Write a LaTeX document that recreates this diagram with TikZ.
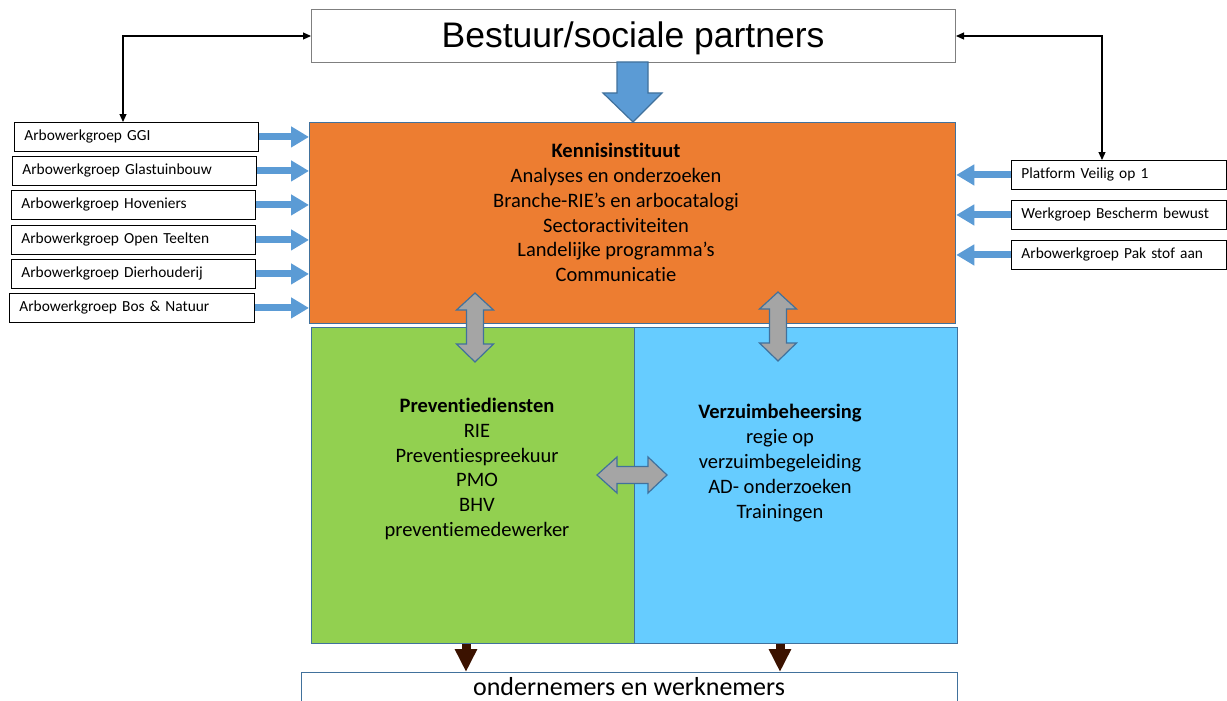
\documentclass[tikz,border=0pt]{standalone}
\usepackage{fontspec}
\setmainfont{Carlito}[Ligatures=NoCommon]
\newfontfamily\arialfont{Liberation Sans}
\usetikzlibrary{arrows.meta}
\definecolor{orangeK}{HTML}{ED7D31}
\definecolor{greenP}{HTML}{92D050}
\definecolor{blueV}{HTML}{66CCFF}
\definecolor{edgeB}{HTML}{41719C}
\definecolor{arrB}{HTML}{5B9BD5}
\definecolor{grayA}{HTML}{A5A5A5}
\definecolor{brownA}{HTML}{3B1200}
\definecolor{titleEdge}{HTML}{7F7F7F}
\tikzset{
  lbox/.style={draw=black, line width=0.9pt, fill=white, minimum height=29pt,
    inner xsep=10pt, inner ysep=0pt, text width=224pt, align=left,
    font=\fontsize{15.4}{17}\selectfont, anchor=north west},
  rbox/.style={lbox, text width=195pt},
  colbox/.style={draw=edgeB, line width=1.3pt, anchor=north west, inner sep=0pt},
  txt/.style={align=center, inner sep=0pt, font=\fontsize{20.5}{24.8}\selectfont},
  conn/.style={draw=black, line width=1.2pt,
    {Triangle[length=8pt,width=7pt]}-{Triangle[length=8pt,width=7pt]}},
  bluearr/.style={draw=arrB, line width=7pt, -{Triangle[length=18pt,width=20pt]}},
  brownarr/.style={draw=brownA, line width=9pt, -{Triangle[length=23pt,width=21pt]}},
  grayarr/.style={draw=edgeB, line width=1.2pt, fill=grayA, line join=miter},
  vdarr/.pic={\draw[grayarr] (0,-34.5) -- (18.5,-17.5) -- (8.5,-17.5) -- (8.5,16.5)
     -- (18.5,16.5) -- (0,34.5) -- (-18.5,16.5) -- (-8.5,16.5) -- (-8.5,-17.5)
     -- (-18.5,-17.5) -- cycle;},
  hdarr/.pic={\draw[grayarr] (-35,0) -- (-15,-18) -- (-15,-8.5) -- (16,-8.5)
     -- (16,-18) -- (35,0) -- (16,18) -- (16,8.5) -- (-15,8.5) -- (-15,18) -- cycle;}
}
\begin{document}
\begin{tikzpicture}[x=1pt,y=-1pt]
\useasboundingbox (0,0) rectangle (1227,701);
\fill[white] (0,0) rectangle (1227,701);

% title
\node[draw=titleEdge, line width=1pt, fill=white, anchor=north west, inner sep=0pt,
      minimum width=644pt, minimum height=53pt] (top) at (311,9) {};
\node[font=\arialfont\fontsize{35.5}{40}\selectfont, inner sep=0pt] (toptext) at (633,38.5) {Bestuur/sociale partners};

% main boxes
\node[colbox, fill=orangeK, minimum width=646pt, minimum height=201pt] (ki) at (309,122) {};
\node[colbox, fill=greenP, minimum width=323pt, minimum height=316pt] (pd) at (311,327) {};
\node[colbox, fill=blueV, minimum width=323pt, minimum height=316pt] (vz) at (634,327) {};
\node[colbox, fill=white, minimum width=656pt, minimum height=60pt] (ow) at (301,672) {};

\node[txt] (kitext) at (616,212.5) {\textbf{Kennisinstituut}\\Analyses en onderzoeken\\Branche-RIE’s en arbocatalogi\\Sectoractiviteiten\\Landelijke programma’s\\Communicatie};
\node[txt] (pdtext) at (477,469) {\textbf{Preventiediensten}\\RIE\\Preventiespreekuur\\PMO\\BHV\\preventiemedewerker};
\node[txt] (vztext) at (780,463) {\textbf{Verzuimbeheersing}\\regie op\\verzuimbegeleiding\\AD- onderzoeken\\Trainingen};
\node[inner sep=0pt, font=\fontsize{26}{30}\selectfont] (owtext) at (629,686.5) {ondernemers en werknemers};

% left boxes
\node[lbox] (l1) at (14,122) {Arbowerkgroep GGI};
\node[lbox] (l2) at (12,156) {Arbowerkgroep Glastuinbouw};
\node[lbox] (l3) at (11,190) {Arbowerkgroep Hoveniers};
\node[lbox] (l4) at (11,225) {Arbowerkgroep Open Teelten};
\node[lbox] (l5) at (11,259) {Arbowerkgroep Dierhouderij};
\node[lbox, text width=225pt] (l6) at (9,293) {Arbowerkgroep Bos \& Natuur};

% right boxes
\node[rbox] (r1) at (1011,160) {Platform Veilig op 1};
\node[rbox] (r2) at (1011,200) {Werkgroep Bescherm bewust};
\node[rbox] (r3) at (1011,240) {Arbowerkgroep Pak stof aan};

% blue input arrows
\foreach \n in {l1,l2,l3,l4,l5,l6}{
  \draw[bluearr] (\n.east) -- (\n.east -| ki.west);
}
\foreach \n in {r1,r2,r3}{
  \draw[bluearr] (\n.west) -- (\n.west -| ki.east);
}

% black connectors
\coordinate (lj) at (123,122);
\coordinate (rj) at (1102,160);
\draw[conn] (top.west) -| (lj);
\draw[conn] (top.east) -| (rj);

% big blue arrow
\draw[draw=edgeB, line width=1.2pt, fill=arrB, line join=miter]
  (617,62) -- (648,62) -- (648,93) -- (662,93) -- (633,122) -- (603,93) -- (617,93) -- cycle;

% gray double arrows
\pic at (475,327.5) {vdarr};
\pic at (778,326.5) {vdarr};
\pic at (632,475) {hdarr};

% brown arrows
\coordinate (b1) at (466,0);
\coordinate (b2) at (780,0);
\draw[brownarr] (pd.south -| b1) -- (ow.north -| b1);
\draw[brownarr] (vz.south -| b2) -- (ow.north -| b2);
\end{tikzpicture}
\end{document}
